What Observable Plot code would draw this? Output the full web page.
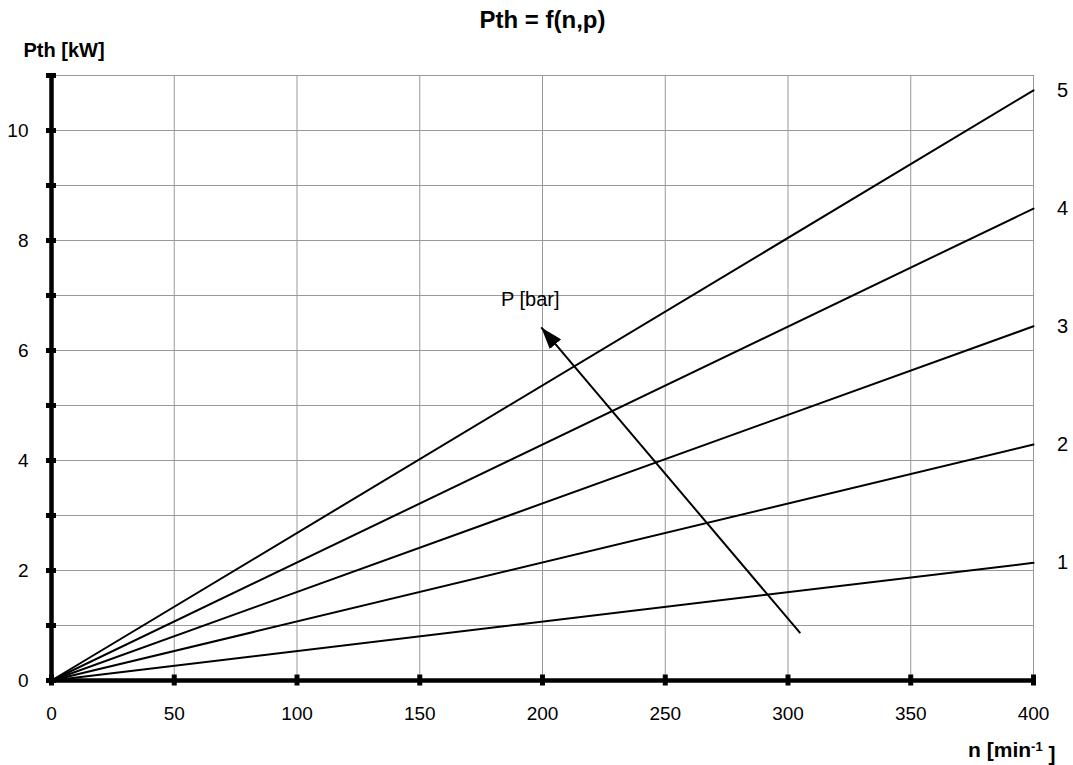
<!DOCTYPE html>
<html>
<head>
<meta charset="utf-8">
<script src="https://cdn.jsdelivr.net/npm/d3@7"></script>
<script src="https://cdn.jsdelivr.net/npm/@observablehq/plot@0.6"></script>
<style>
  html, body { margin: 0; padding: 0; background: #fff; }
  svg { font-family: "Liberation Sans", Arial, sans-serif; }
</style>
</head>
<body>
<div id="chart"></div>
<script>
// Pressure levels (bar) and theoretical power at n = 400 min^-1 (kW)
const pressures = [1, 2, 3, 4, 5];
const speedRange = [0, 400];
const powerAt400 = [2.14, 4.29, 6.44, 8.58, 10.73];
const xTicks = [0, 50, 100, 150, 200, 250, 300, 350, 400];
const yLabelTicks = [0, 2, 4, 6, 8, 10];
const yAllTicks = [0, 1, 2, 3, 4, 5, 6, 7, 8, 9, 10, 11];
const arrowStart = {n: 305, p: 0.86};
const arrowEnd = {n: 199.5, p: 6.42};
const arrowLabel = {n: 195, p: 6.92, text: "P [bar]"};

const lines = pressures.flatMap((p, i) => [
  {p, n: speedRange[0], P: 0},
  {p, n: speedRange[1], P: powerAt400[i]}
]);
const ends = pressures.map((p, i) => ({p, n: speedRange[1], P: powerAt400[i]}));

const plot = Plot.plot({
  width: 1073,
  height: 765,
  marginLeft: 51,
  marginRight: 40,
  marginTop: 75,
  marginBottom: 85,
  style: {fontFamily: "Liberation Sans, Arial, sans-serif", fontSize: "16px", background: "#fff"},
  x: {domain: [0, 400]},
  y: {domain: [0, 11]},
  marks: [
    Plot.gridX(xTicks, {stroke: "#999", strokeOpacity: 1, strokeWidth: 1}),
    Plot.gridY(yAllTicks, {stroke: "#999", strokeOpacity: 1, strokeWidth: 1}),
    Plot.text([arrowLabel], {x: "n", y: "p", text: "text", fill: "#000", fontSize: 20}),
    Plot.line(lines, {x: "n", y: "P", z: "p", stroke: "#000", strokeWidth: 2}),
    Plot.link([{...arrowStart, n2: arrowEnd.n, p2: arrowEnd.p}],
      {x1: "n", y1: "p", x2: "n2", y2: "p2", stroke: "#000", strokeWidth: 2}),
    Plot.text(ends, {x: "n", y: "P", text: d => String(d.p), dx: 29, fontSize: 20, fill: "#000"}),
    // thick axes
    Plot.ruleY([0], {stroke: "#000", strokeWidth: 4.5}),
    Plot.ruleX([0], {stroke: "#000", strokeWidth: 4.5}),
    Plot.axisY(yAllTicks, {tickSize: 10, dx: 5, strokeWidth: 5, tickFormat: () => "", label: null}),
    Plot.axisY(yLabelTicks, {tickSize: 0, tickPadding: 23, fontSize: 19, label: null, fill: "#000", tickFormat: "d"}),
    Plot.axisX(xTicks, {tickSize: 11, dy: -5.5, strokeWidth: 5, tickFormat: () => "", label: null}),
    Plot.axisX(xTicks, {tickSize: 0, tickPadding: 26, fontSize: 19, label: null, fill: "#000", tickFormat: "d"}),
    Plot.text(["Pth = f(n,p)"], {frameAnchor: "top", lineAnchor: "middle", dy: -55, fontSize: 24, fontWeight: "bold", fill: "#000"}),
    Plot.text(["Pth [kW]"], {frameAnchor: "top-left", lineAnchor: "middle", dx: -28, dy: -25, textAnchor: "start", fontSize: 20, fontWeight: "bold", fill: "#000"}),
    Plot.text(["n [min-1 ]"], {frameAnchor: "bottom-right", lineAnchor: "middle", dx: 22, dy: 70, textAnchor: "end", fontSize: 21, fontWeight: "bold", fill: "#000"})
  ]
});

const svg = d3.select(plot);

// filled arrowhead marker on the arrow shaft
const defs = svg.append("defs");
defs.append("marker")
  .attr("id", "arrowhead")
  .attr("viewBox", "0 0 22 15")
  .attr("refX", 22).attr("refY", 7.5)
  .attr("markerWidth", 22).attr("markerHeight", 15)
  .attr("markerUnits", "userSpaceOnUse")
  .attr("orient", "auto")
  .append("path").attr("d", "M0,0 L22,7.5 L0,15 Z").attr("fill", "#000");
svg.selectAll('g[aria-label="link"] path').attr("marker-end", "url(#arrowhead)");

// superscript in x label
svg.selectAll("text").filter(function() { return this.textContent === "n [min-1 ]"; })
  .each(function() {
    const t = d3.select(this);
    t.text(null);
    t.append("tspan").text("n [min");
    t.append("tspan").attr("dy", "-0.45em").attr("font-size", "13px").text("-1");
    t.append("tspan").attr("dy", "0.45em").text(" ]");
  });

document.getElementById("chart").appendChild(plot);

// white box behind the "P [bar]" label, hiding the grid there
svg.selectAll("text").filter(function() { return this.textContent === "P [bar]"; })
  .each(function() {
    const b = this.getBBox();
    const g = this.parentNode;
    d3.select(g).insert("rect", ":first-child")
      .attr("x", b.x - 20).attr("y", b.y - 20)
      .attr("width", b.width + 48).attr("height", b.height + 38)
      .attr("fill", "#fff");
  });
</script>
</body>
</html>
